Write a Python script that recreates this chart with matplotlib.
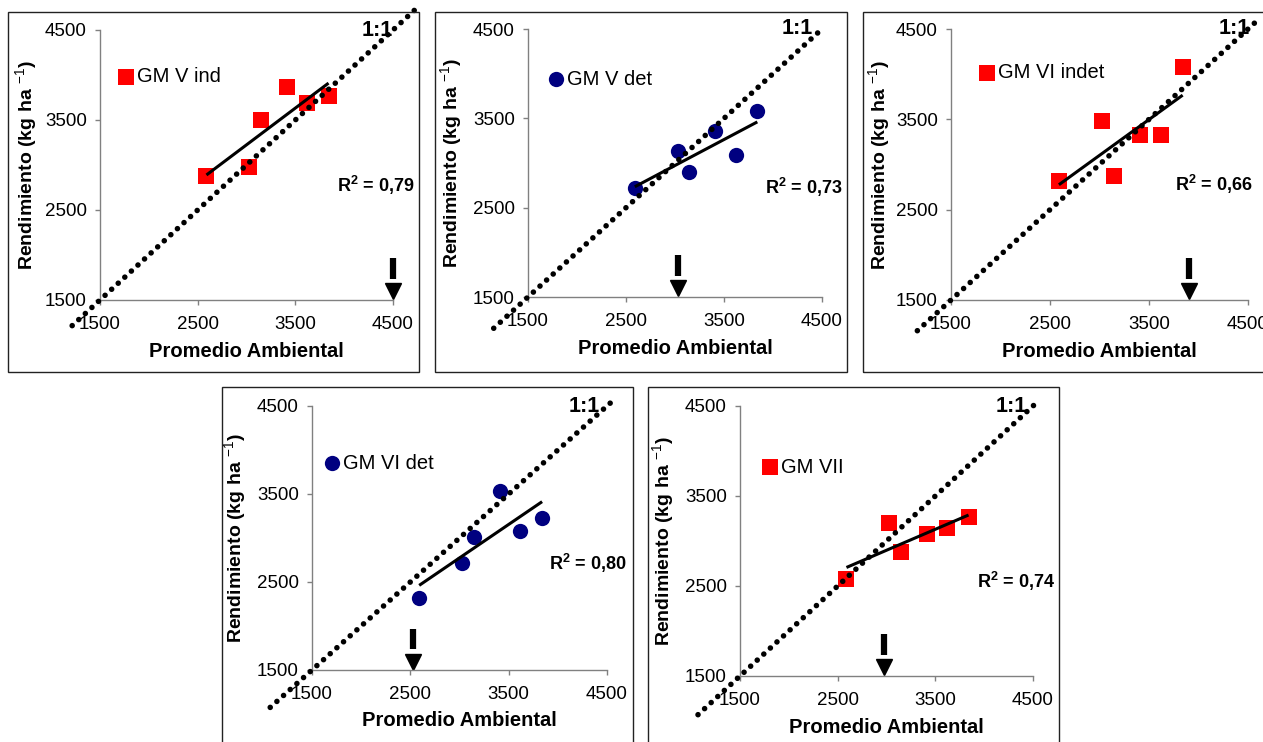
import numpy as np
import matplotlib.pyplot as plt
from matplotlib.patches import Rectangle

plt.rcParams['font.family'] = ['Liberation Sans', 'DejaVu Sans']
plt.rcParams['mathtext.fontset'] = 'custom'
plt.rcParams['mathtext.rm'] = 'Liberation Sans'
plt.rcParams['mathtext.bf'] = 'Liberation Sans:bold'

# promedio ambiental (mismo para todos los paneles)
amb = [2590, 3030, 3145, 3410, 3620, 3840]

# rendimientos por grupo de madurez
gm5_ind = [2878, 2978, 3500, 3867, 3689, 3767]
gm5_det = [2720, 3134, 2899, 3358, 3090, 3582]
gm6_indet = [2817, 3481, 2873, 3327, 3327, 4079]
gm6_det = [2318, 2716, 3011, 3534, 3080, 3227]
gm7 = [2578, 3200, 2878, 3078, 3144, 3267]

nombres = ["GM V ind", "GM V det", "GM VI indet", "GM VI det", "GM VII"]
series = [gm5_ind, gm5_det, gm6_indet, gm6_det, gm7]
r2 = ["0,79", "0,73", "0,66", "0,80", "0,74"]
flechas = [4500, 3030, 3900, 2530, 2970]
# extremos de la linea 1:1
uno_a_uno = [(1215, 4720), (1150, 4500), (1160, 4600), (1075, 4560), (1070, 4550)]
ticks = [1500, 2500, 3500, 4500]

W, H = 1263, 742

# layout en pixeles: (eje izq, eje der, eje arriba, eje abajo), marco, marcador, color
paneles = [
    dict(ax=(100, 393, 30, 300), marco=(8, 12, 419, 372), mk='s', col='#FF0000',
         ley=(1766, 3978), r2pos=(1.075, 0.426), t11=1.0, ylx=-0.205),
    dict(ax=(528, 822, 29, 297), marco=(435, 12, 847, 372), mk='o', col='#000080',
         ley=(1786, 3940), r2pos=(1.07, 0.41), t11=0.97, ylx=-0.215),
    dict(ax=(951, 1248, 29, 300), marco=(863, 12, 1275, 372), mk='s', col='#FF0000',
         ley=(1864, 4013), r2pos=(1.017, 0.428), t11=1.007, ylx=-0.195),
    dict(ax=(312, 607, 406, 670), marco=(222, 387, 633, 760), mk='o', col='#000080',
         ley=(1703, 3852), r2pos=(1.068, 0.405), t11=0.976, ylx=-0.215),
    dict(ax=(740, 1033, 406, 676), marco=(648, 387, 1059, 760), mk='s', col='#FF0000',
         ley=(1807, 3822), r2pos=(1.075, 0.35), t11=0.98, ylx=-0.215),
]

fig = plt.figure(figsize=(W / 100, H / 100), dpi=100)

for i, p in enumerate(paneles):
    # marco de cada grafico
    x0, y0, x1, y1 = p['marco']
    fig.add_artist(Rectangle((x0 / W, 1 - y1 / H), (x1 - x0) / W, (y1 - y0) / H,
                             transform=fig.transFigure, fill=False,
                             edgecolor='#222222', linewidth=1.0))

    l, r, t, b = p['ax']
    ax = fig.add_axes([l / W, 1 - b / H, (r - l) / W, (b - t) / H])
    ax.set_xlim(1500, 4500)
    ax.set_ylim(1500, 4500)
    ax.set_xticks(ticks)
    ax.set_yticks(ticks)
    for s in ['top', 'right']:
        ax.spines[s].set_visible(False)
    for s in ['left', 'bottom']:
        ax.spines[s].set_color('#808080')
        ax.spines[s].set_linewidth(1.0)
    ax.tick_params(colors='#808080', labelcolor='black', labelsize=13.5,
                   length=3.5, width=1.0, pad=6)
    ax.tick_params(axis='x', pad=8)
    ax.patch.set_alpha(0)

    y = series[i]
    mk = p['mk']
    ms = 11.5 if mk == 's' else 11
    ax.plot(amb, y, linestyle='none', marker=mk, ms=ms, color=p['col'],
            markeredgewidth=0, clip_on=False, zorder=3)

    # linea de tendencia
    pend, orden = np.polyfit(amb, y, 1)
    xx = np.array([min(amb), max(amb)])
    ax.plot(xx, pend * xx + orden, color='black', lw=2.2, zorder=4,
            solid_capstyle='butt')

    # linea 1:1
    a, z = uno_a_uno[i]
    ax.plot([a, z], [a, z], color='black', lw=4.0, linestyle=(0, (0.01, 1.6)),
            dash_capstyle='round', clip_on=False, zorder=5)

    # leyenda manual
    lx, ly = p['ley']
    ax.plot([lx], [ly], marker=mk, ms=ms, color=p['col'], markeredgewidth=0,
            linestyle='none')
    ax.annotate(nombres[i], (lx, ly), xytext=(8, 0), textcoords='offset points',
                va='center', ha='left', fontsize=14.5)

    ax.text(p['r2pos'][0], p['r2pos'][1], 'R$^{\\mathbf{2}}$ = ' + r2[i],
            transform=ax.transAxes, ha='right', va='center', fontsize=13,
            fontweight='bold')
    ax.text(p['t11'], 1.0, '1:1', transform=ax.transAxes, ha='right', va='center',
            fontsize=15.5, fontweight='bold')

    # flecha
    tr = ax.get_xaxis_transform()
    ax.plot([flechas[i], flechas[i]], [0.078, 0.155], transform=tr, color='black',
            lw=4.5, solid_capstyle='butt', clip_on=False)
    ax.plot([flechas[i]], [0.032], transform=tr, marker='v', ms=11.5, color='black',
            clip_on=False)

    ax.set_xlabel('Promedio Ambiental', fontsize=14.5, fontweight='bold')
    ax.set_ylabel('Rendimiento (kg ha $^{\\mathrm{-1}}$)', fontsize=14,
                  fontweight='bold')
    ax.xaxis.set_label_coords(0.5, -0.155)
    ax.yaxis.set_label_coords(p['ylx'], 0.5)

fig.savefig('out.png', dpi=100)
